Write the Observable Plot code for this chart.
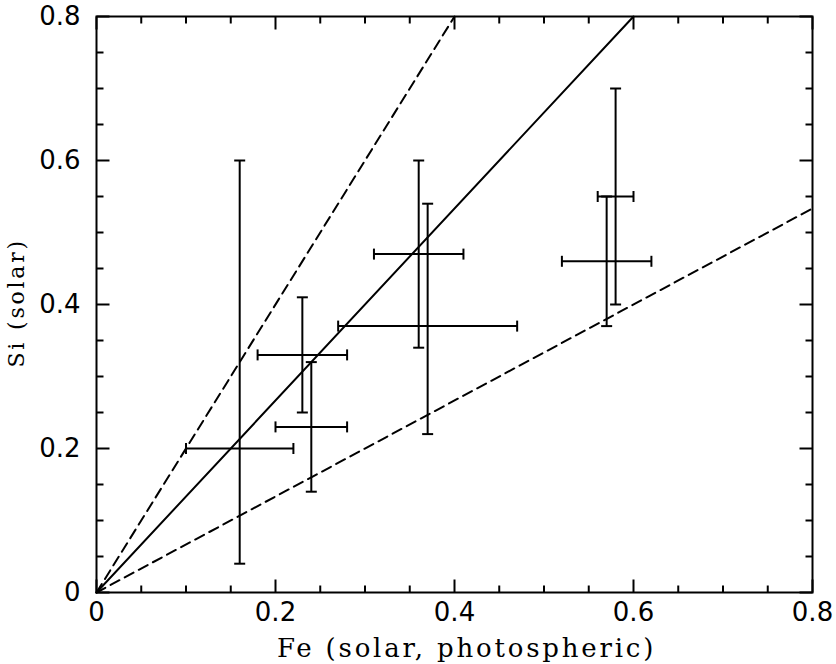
<!DOCTYPE html>
<html>
<head>
<meta charset="utf-8">
<script src="https://cdn.jsdelivr.net/npm/d3@7"></script>
<script src="https://cdn.jsdelivr.net/npm/@observablehq/plot@0.6"></script>
<style>
  html, body { margin: 0; padding: 0; background: #fff; }
  #chart svg { overflow: visible; }
  #chart g[aria-label="text"] text { letter-spacing: 2.8px; }
</style>
</head>
<body>
<div id="chart"></div>
<script>
// Data
const fe     = [0.16, 0.23, 0.24, 0.36, 0.37, 0.58, 0.57];
const feLo   = [0.10, 0.18, 0.20, 0.31, 0.27, 0.56, 0.52];
const feHi   = [0.22, 0.28, 0.28, 0.41, 0.47, 0.60, 0.62];
const si     = [0.20, 0.33, 0.23, 0.47, 0.37, 0.55, 0.46];
const siLo   = [0.04, 0.25, 0.14, 0.34, 0.22, 0.40, 0.37];
const siHi   = [0.60, 0.41, 0.32, 0.60, 0.54, 0.70, 0.55];

// Reference ratio lines Si = slope * Fe
const lineSlopes = [4/3, 2, 2/3];
const lineDashed = [false, true, true];

// Axis ticks
const majorTicks = [0, 0.2, 0.4, 0.6, 0.8];
const minorTicks = [0.05, 0.1, 0.15, 0.25, 0.3, 0.35, 0.45, 0.5, 0.55, 0.65, 0.7, 0.75];

const xLabel = "Fe (solar, photospheric)";
const yLabel = "Si (solar)";

const points = fe.map((x, i) => ({x, y: si[i], x1: feLo[i], x2: feHi[i], y1: siLo[i], y2: siHi[i]}));
const XMAX = 0.8, YMAX = 0.8;
const lines = lineSlopes.map((s, i) => {
  const xe = Math.min(XMAX, YMAX / s);
  return {dashed: lineDashed[i], pts: [[0, 0], [xe, s * xe]]};
});

// custom symbols (pixel-space segments)
const seg = (dx0, dy0, dx1, dy1) => ({draw(ctx) { ctx.moveTo(dx0, dy0); ctx.lineTo(dx1, dy1); }});
const hCap = seg(-5.5, 0, 5.5, 0);
const vCap = seg(0, -5.5, 0, 5.5);
const MAJ = 13, MIN = 7;
const SW = 2;

const tickMarks = [];
for (const [ticks, len] of [[majorTicks, MAJ], [minorTicks, MIN]]) {
  tickMarks.push(Plot.dot(ticks, {x: d => d, frameAnchor: "bottom", symbol: seg(0, 0, 0, -len), stroke: "black", strokeWidth: 2, fill: "none"}));
  tickMarks.push(Plot.dot(ticks, {x: d => d, frameAnchor: "top", symbol: seg(0, 0, 0, len), stroke: "black", strokeWidth: 2, fill: "none"}));
  tickMarks.push(Plot.dot(ticks, {y: d => d, frameAnchor: "left", symbol: seg(0, 0, len, 0), stroke: "black", strokeWidth: 2, fill: "none"}));
  tickMarks.push(Plot.dot(ticks, {y: d => d, frameAnchor: "right", symbol: seg(0, 0, -len, 0), stroke: "black", strokeWidth: 2, fill: "none"}));
}

const fmt = d => d === 0 ? "0" : String(d);

const chart = Plot.plot({
  width: 836,
  height: 664,
  marginLeft: 96,
  marginRight: 24,
  marginTop: 16,
  marginBottom: 72,
  style: {fontFamily: "'DejaVu Sans', sans-serif", background: "#fff", color: "black"},
  x: {domain: [0, XMAX]},
  y: {domain: [0, YMAX]},
  marks: [
    Plot.axisX({ticks: majorTicks, tickSize: 0, tickPadding: 10, tickFormat: fmt, fontSize: 26, label: null}),
    Plot.axisY({ticks: majorTicks, tickSize: 0, tickPadding: 16, tickFormat: fmt, fontSize: 26, label: null}),
    ...lines.map(l => Plot.line(l.pts, {x: d => d[0], y: d => d[1], stroke: "black", strokeWidth: SW, strokeDasharray: l.dashed ? "10,6" : null})),
    Plot.link(points, {x1: "x1", x2: "x2", y1: "y", y2: "y", stroke: "black", strokeWidth: SW}),
    Plot.link(points, {x1: "x", x2: "x", y1: "y1", y2: "y2", stroke: "black", strokeWidth: SW}),
    Plot.dot(points, {x: "x1", y: "y", symbol: vCap, stroke: "black", strokeWidth: SW, fill: "none"}),
    Plot.dot(points, {x: "x2", y: "y", symbol: vCap, stroke: "black", strokeWidth: SW, fill: "none"}),
    Plot.dot(points, {x: "x", y: "y1", symbol: hCap, stroke: "black", strokeWidth: SW, fill: "none"}),
    Plot.dot(points, {x: "x", y: "y2", symbol: hCap, stroke: "black", strokeWidth: SW, fill: "none"}),
    ...tickMarks,
    Plot.frame({stroke: "black", strokeWidth: 2}),
    Plot.text([xLabel], {frameAnchor: "bottom", dx: 12, dy: 64, lineAnchor: "bottom", fontFamily: "'DejaVu Serif', serif", fontSize: 26, fill: "black"}),
    Plot.text([yLabel], {frameAnchor: "left", dx: -80, dy: 63, rotate: -90, fontFamily: "'DejaVu Serif', serif", fontSize: 22, fill: "black"})
  ]
});
document.getElementById("chart").appendChild(chart);
</script>
</body>
</html>
